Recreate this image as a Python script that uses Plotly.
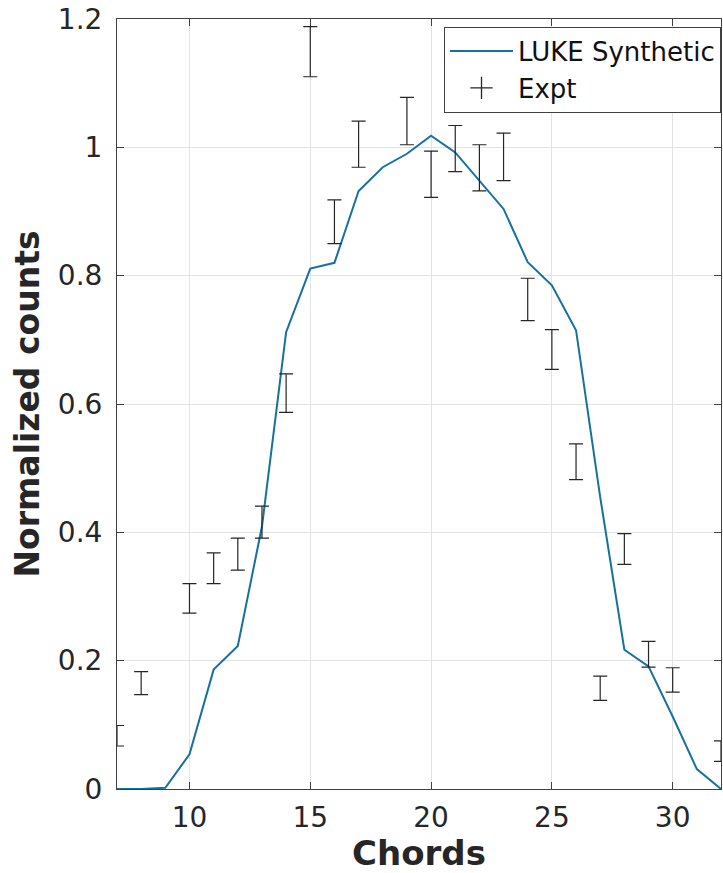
import plotly.graph_objects as go

# LUKE synthetic profile, one value per chord
chords_model = list(range(7, 33))
luke_synthetic = [0.0, 0.0, 0.002, 0.054, 0.186, 0.223, 0.409, 0.712, 0.811, 0.820,
                  0.932, 0.969, 0.990, 1.018, 0.992, 0.948, 0.904, 0.821, 0.785, 0.715,
                  0.455, 0.217, 0.191, 0.113, 0.031, 0.0]

# Measured counts with symmetric uncertainties
chords_expt = [7, 8, 10, 11, 12, 13, 14, 15, 16, 17, 19, 20, 21, 22, 23, 24, 25, 26,
               27, 28, 29, 30, 32]
expt_counts = [0.083, 0.165, 0.297, 0.344, 0.366, 0.416, 0.617, 1.149, 0.884, 1.005,
               1.041, 0.958, 0.998, 0.968, 0.985, 0.763, 0.685, 0.510, 0.157, 0.374,
               0.210, 0.170, 0.059]
expt_err = [0.016, 0.018, 0.023, 0.024, 0.025, 0.025, 0.030, 0.039, 0.034, 0.036,
            0.037, 0.036, 0.036, 0.036, 0.037, 0.033, 0.031, 0.028, 0.019, 0.024,
            0.020, 0.019, 0.016]

x_ticks = [10, 15, 20, 25, 30]
y_ticks = [0, 0.2, 0.4, 0.6, 0.8, 1.0, 1.2]
y_tick_text = ["0", "0.2", "0.4", "0.6", "0.8", "1", "1.2"]

line_color = "#1670a0"
ink = "#262626"
axis_color = "#404040"
grid_color = "#e3e3e3"

fig = go.Figure()

fig.add_trace(go.Scatter(
    x=chords_model, y=luke_synthetic, mode="lines",
    line=dict(color=line_color, width=2),
    name="LUKE Synthetic",
))

fig.add_trace(go.Scatter(
    x=chords_expt, y=expt_counts, mode="markers",
    marker=dict(size=1, color=ink, opacity=0),
    error_y=dict(type="data", array=expt_err, visible=True,
                 color=ink, thickness=1.2, width=7),
    showlegend=False, name="Expt",
))

# legend entry for the measurements
fig.add_trace(go.Scatter(
    x=[None], y=[None], mode="markers",
    marker=dict(symbol="cross-thin-open", size=16, color=ink,
                line=dict(color=ink, width=1.3)),
    name="Expt",
))

axis_common = dict(
    showline=True, linecolor=axis_color, linewidth=1, mirror="ticks",
    ticks="inside", ticklen=7, tickcolor=axis_color, tickwidth=1,
    showgrid=True, gridcolor=grid_color, gridwidth=1,
    zeroline=False, automargin=False,
    tickfont=dict(family="DejaVu Sans", size=28, color=ink),
)

fig.update_xaxes(
    range=[7, 32], tickvals=x_ticks, ticktext=[str(v) for v in x_ticks],
    ticklabelstandoff=3,
    title=dict(text="<b>Chords</b>", standoff=20,
               font=dict(family="DejaVu Sans", size=34, color=ink)),
    **axis_common,
)
fig.update_yaxes(
    range=[0, 1.2], tickvals=y_ticks, ticktext=y_tick_text,
    ticklabelstandoff=8,
    title=dict(text="<b>Normalized counts</b>", standoff=8,
               font=dict(family="DejaVu Sans", size=33, color=ink)),
    **axis_common,
)

fig.update_layout(
    width=723, height=873,
    margin=dict(l=117, r=2, t=19, b=84),
    paper_bgcolor="white", plot_bgcolor="white",
    font=dict(family="DejaVu Sans", color=ink),
    legend=dict(
        x=1, y=0.99, xanchor="right", yanchor="top",
        bgcolor="white", bordercolor=axis_color, borderwidth=1,
        font=dict(family="DejaVu Sans", size=26, color="#111111"),
        tracegroupgap=0, itemwidth=63,
    ),
)

fig.write_html("out.html")
